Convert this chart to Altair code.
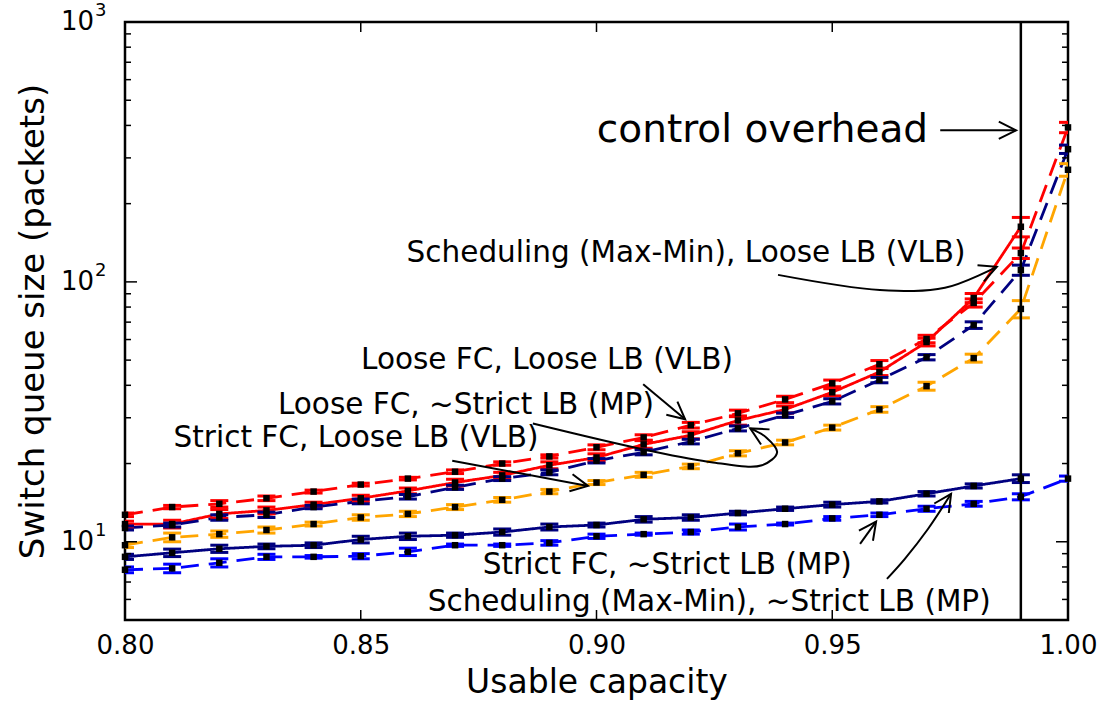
import math
import altair as alt
import pandas as pd

# ---------------- data ----------------
capacity = [0.80, 0.81, 0.82, 0.83, 0.84, 0.85, 0.86, 0.87, 0.88, 0.89, 0.90,
            0.91, 0.92, 0.93, 0.94, 0.95, 0.96, 0.97, 0.98, 0.99, 1.00]

loose_fc_loose_lb = [12.7, 13.6, 14.0, 14.7, 15.6, 16.6, 17.5, 18.6, 20.0, 21.3, 23.1,
                     25.2, 28.1, 31.2, 35.3, 40.7, 48.2, 60.3, 83.0, 129, 393]
loose_fc_loose_lb_err = [0.2, 0.2, 0.4, 0.3, 0.2, 0.2, 0.2, 0.3, 0.3, 0.3, 0.5,
                         0.6, 0.7, 0.9, 1.0, 1.2, 1.6, 2.0, 3.0, 6, 18]

sched_loose_lb = [11.7, 11.7, 12.8, 13.2, 13.9, 14.7, 15.7, 16.9, 18.0, 19.7, 21.1,
                  23.7, 25.7, 29.3, 32.3, 37.6, 45.0, 58.7, 86.7, 163]
sched_loose_lb_err = [0.3, 0.4, 0.5, 0.4, 0.3, 0.4, 0.4, 0.5, 0.5, 0.6, 0.7,
                      0.8, 0.8, 1.2, 1.0, 1.2, 1.4, 2.0, 3.5, 14]

loose_fc_mp = [11.3, 11.6, 12.4, 12.7, 13.6, 14.3, 14.9, 16.2, 17.5, 18.5, 20.5,
               22.1, 24.3, 27.3, 30.7, 34.7, 41.9, 51.3, 68.2, 111, 324]
loose_fc_mp_err = [0.2, 0.2, 0.3, 0.3, 0.2, 0.3, 0.3, 0.3, 0.3, 0.4, 0.4,
                   0.5, 0.5, 0.6, 0.6, 0.8, 1.0, 1.2, 2.0, 5, 12]

strict_fc_loose_lb = [9.7, 10.4, 10.7, 11.1, 11.7, 12.4, 12.8, 13.6, 14.5, 15.6, 16.9,
                      18.1, 19.5, 21.9, 24.1, 27.5, 32.3, 39.7, 50.9, 78.7, 270]
strict_fc_loose_lb_err = [0.2, 0.4, 0.3, 0.3, 0.2, 0.3, 0.3, 0.3, 0.3, 0.3, 0.3,
                          0.4, 0.4, 0.5, 0.5, 0.6, 0.8, 1.4, 1.8, 6, 15]

sched_mp = [8.75, 9.07, 9.4, 9.6, 9.7, 10.2, 10.5, 10.6, 10.9, 11.4, 11.6,
            12.2, 12.4, 12.9, 13.4, 13.9, 14.3, 15.3, 16.4, 17.5]
sched_mp_err = [0.2, 0.3, 0.3, 0.2, 0.2, 0.3, 0.3, 0.2, 0.3, 0.3, 0.2,
                0.3, 0.3, 0.2, 0.2, 0.3, 0.2, 0.3, 0.3, 0.6]

strict_fc_mp = [7.8, 7.9, 8.3, 8.75, 8.75, 8.8, 9.15, 9.7, 9.7, 9.9, 10.5,
                10.7, 10.9, 11.4, 11.7, 12.3, 12.7, 13.4, 14.0, 14.9, 17.5]
strict_fc_mp_err = [0.2, 0.3, 0.3, 0.2, 0.1, 0.2, 0.3, 0.1, 0.1, 0.2, 0.2,
                    0.1, 0.2, 0.3, 0.1, 0.2, 0.2, 0.3, 0.3, 0.4, 0.4]

series_names = ["Loose FC, Loose LB (VLB)",
                "Scheduling (Max-Min), Loose LB (VLB)",
                "Loose FC, ~Strict LB (MP)",
                "Strict FC, Loose LB (VLB)",
                "Scheduling (Max-Min), ~Strict LB (MP)",
                "Strict FC, ~Strict LB (MP)"]
series_values = [loose_fc_loose_lb, sched_loose_lb, loose_fc_mp,
                 strict_fc_loose_lb, sched_mp, strict_fc_mp]
series_errors = [loose_fc_loose_lb_err, sched_loose_lb_err, loose_fc_mp_err,
                 strict_fc_loose_lb_err, sched_mp_err, strict_fc_mp_err]
series_colors = ["#ff0000", "#ff0000", "#000080", "#ffa500", "#000080", "#0000ff"]
series_dashes = [[18, 10], [1, 0], [18, 10], [18, 10], [1, 0], [18, 10]]

control_overhead_x = [0.99]

x_ticks = [0.80, 0.85, 0.90, 0.95, 1.00]
y_major = [10, 100, 1000]
y_exponents = ["1", "2", "3"]
y_minor = [6, 7, 8, 9, 20, 30, 40, 50, 60, 70, 80, 90,
           200, 300, 400, 500, 600, 700, 800, 900]

# annotations (data coordinates)
label_texts = ["Scheduling (Max-Min), Loose LB (VLB)",
               "Loose FC, Loose LB (VLB)",
               "Loose FC, ~Strict LB (MP)",
               "Strict FC, Loose LB (VLB)",
               "Strict FC, ~Strict LB (MP)",
               "Scheduling (Max-Min), ~Strict LB (MP)"]
label_x = [0.9190, 0.8895, 0.8723, 0.8490, 0.9150, 0.9239]
label_y = [129, 50, 33.5, 25.0, 8.15, 5.87]
big_text = ["control overhead"]
big_x = [0.9352]
big_y = [383]

arrow_paths = [
    [(0.9729, 383), (0.9890, 383)],
    [(0.9385, 106.4), (0.9601, 93.1), (0.9739, 94.9), (0.9849, 114.3)],
    [(0.9099, 40.4), (0.9188, 29.6)],
    [(0.8865, 28.5), (0.9107, 22.5), (0.9247, 20.2), (0.9351, 19.7),
     (0.9383, 22.1), (0.9360, 25.2), (0.9326, 27.3)],
    [(0.8694, 20.5), (0.8982, 16.4)],
    [(0.9559, 9.82), (0.9593, 11.95)],
    [(0.9616, 7.2), (0.9654, 8.6), (0.9703, 11.2), (0.9752, 15.3)],
]

# ---------------- layout ----------------
W, H = 943, 598
X_DOM = [0.8, 1.0]
Y_DOM = [5, 1000]
FONT = "DejaVu Sans"


def px(x):
    return (x - X_DOM[0]) / (X_DOM[1] - X_DOM[0]) * W


def py(y):
    return H * (math.log10(Y_DOM[1]) - math.log10(y)) / (math.log10(Y_DOM[1]) - math.log10(Y_DOM[0]))


rows = []
for name, vals, errs in zip(series_names, series_values, series_errors):
    for i, v in enumerate(vals):
        rows.append({"series": name, "x": capacity[i], "y": v,
                     "lo": v - errs[i], "hi": v + errs[i]})
df = pd.DataFrame(rows)

x_scale = alt.Scale(domain=X_DOM, nice=False, zero=False)
y_scale = alt.Scale(type="log", domain=Y_DOM, nice=False)

x_axis = alt.Axis(values=x_ticks, format=".2f", ticks=False, domain=False, grid=False,
                  labelFont=FONT, labelFontSize=26, labelColor="black", labelPadding=12,
                  labelFlush=False,
                  title="Usable capacity", titleFont=FONT, titleFontSize=33,
                  titleFontWeight="normal", titleColor="black",
                  titleY=72, titleBaseline="alphabetic")
y_axis = alt.Axis(labels=False, ticks=False, domain=False, grid=False,
                  title="Switch queue size (packets)", titleFont=FONT, titleFontSize=34,
                  titleFontWeight="normal", titleColor="black", titleAngle=270,
                  titleX=-82, titleY=H / 2, titleAlign="center", titleBaseline="alphabetic")


def X(f):
    return alt.X(f, type="quantitative", scale=x_scale, axis=x_axis)


def Y(f):
    return alt.Y(f, type="quantitative", scale=y_scale, axis=y_axis)


color = alt.Color("series:N", scale=alt.Scale(domain=series_names, range=series_colors), legend=None)
dash = alt.StrokeDash("series:N", scale=alt.Scale(domain=series_names, range=series_dashes), legend=None)

base = alt.Chart(df)
lines = base.mark_line(strokeWidth=2.8, clip=True).encode(x=X("x"), y=Y("y"), color=color, strokeDash=dash)
err = base.mark_rule(strokeWidth=2.8, clip=True).encode(x=X("x"), y=Y("lo"), y2="hi", color=color)
cap_lo = base.mark_rule(strokeWidth=3, xOffset=-9, x2Offset=9, clip=True).encode(
    x=X("x"), x2="x", y=Y("lo"), color=color)
cap_hi = base.mark_rule(strokeWidth=3, xOffset=-9, x2Offset=9, clip=True).encode(
    x=X("x"), x2="x", y=Y("hi"), color=color)
pts = base.mark_square(size=42, color="black", opacity=1).encode(x=X("x"), y=Y("y"))

overhead = alt.Chart(pd.DataFrame({"x": control_overhead_x})).mark_rule(
    color="black", strokeWidth=2.5).encode(x=X("x"))

# ticks (inward, all four sides)
xt = pd.DataFrame({"x": x_ticks})
ymj = pd.DataFrame({"y": y_major, "e": y_exponents})
ymn = pd.DataFrame({"y": y_minor})
tk = dict(color="black", strokeWidth=1.5)
ticks = [
    alt.Chart(xt).mark_rule(**tk).encode(x=X("x"), y=alt.value(H), y2=alt.value(H - 10)),
    alt.Chart(xt).mark_rule(**tk).encode(x=X("x"), y=alt.value(0), y2=alt.value(10)),
    alt.Chart(ymj).mark_rule(**tk).encode(y=Y("y"), x=alt.value(0), x2=alt.value(12)),
    alt.Chart(ymj).mark_rule(**tk).encode(y=Y("y"), x=alt.value(W), x2=alt.value(W - 12)),
    alt.Chart(ymn).mark_rule(**tk).encode(y=Y("y"), x=alt.value(0), x2=alt.value(6)),
    alt.Chart(ymn).mark_rule(**tk).encode(y=Y("y"), x=alt.value(W), x2=alt.value(W - 6)),
]

ylab_base = alt.Chart(ymj)
ylab = ylab_base.mark_text(font=FONT, fontSize=26, align="right", baseline="middle",
                           color="black", text="10").encode(y=Y("y"), x=alt.value(-31))
ylab_exp = ylab_base.mark_text(font=FONT, fontSize=18, align="left", baseline="middle",
                               color="black", dy=-11).encode(y=Y("y"), x=alt.value(-30), text="e:N")

# annotations
lab_df = pd.DataFrame({"t": label_texts, "x": label_x, "y": label_y})
labels = alt.Chart(lab_df).mark_text(font=FONT, fontSize=29.5, align="center", baseline="middle",
                                     color="black").encode(x=X("x"), y=Y("y"), text="t:N")
big_df = pd.DataFrame({"t": big_text, "x": big_x, "y": big_y})
big = alt.Chart(big_df).mark_text(font=FONT, fontSize=39, align="center", baseline="middle",
                                  color="black").encode(x=X("x"), y=Y("y"), text="t:N")

arows, heads = [], []
for a, path in enumerate(arrow_paths):
    for k, (x, y) in enumerate(path):
        arows.append({"a": a, "k": k, "x": x, "y": y})
    (x0, y0), (x1, y1) = path[-2], path[-1]
    ang = math.degrees(math.atan2(py(y1) - py(y0), px(x1) - px(x0))) % 360
    heads.append({"x": x1, "y": y1, "ang": ang})
arrow_lines = alt.Chart(pd.DataFrame(arows)).mark_line(
    color="black", strokeWidth=2, interpolate="catmull-rom").encode(
    x=X("x"), y=Y("y"), detail="a:N", order="k:Q")
arrow_heads = alt.Chart(pd.DataFrame(heads)).mark_point(
    shape="M-1,-0.5L0,0L-1,0.5", filled=False, strokeWidth=2, color="black",
    size=1200, opacity=1).encode(x=X("x"), y=Y("y"), angle=alt.Angle("ang:Q", scale=None))

chart = alt.layer(
    lines, err, cap_lo, cap_hi, pts, overhead, *ticks, ylab, ylab_exp,
    labels, big, arrow_lines, arrow_heads
).properties(
    width=W, height=H,
    autosize=alt.AutoSizeParams(type="none"),
    padding={"left": 125, "top": 22, "right": 39, "bottom": 84},
    background="white",
).configure_view(stroke="black", strokeWidth=2.5)

chart.save("out.html", embed_options={"renderer": "svg", "actions": False})
